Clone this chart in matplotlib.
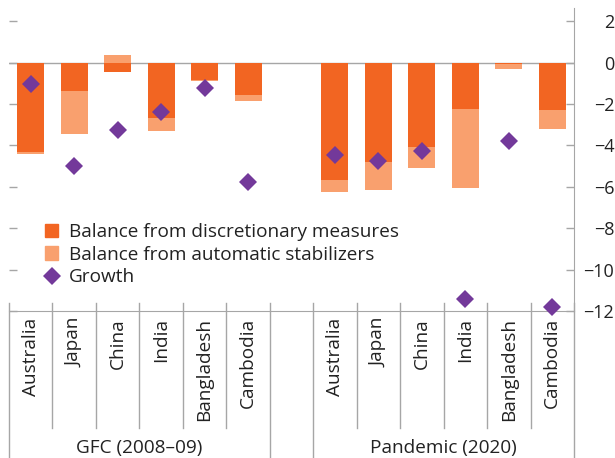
import matplotlib
matplotlib.use("Agg")
import matplotlib.pyplot as plt
import matplotlib.transforms as mtransforms
from matplotlib.lines import Line2D
from matplotlib.patches import Patch
import numpy as np

plt.rcParams['font.family'] = ['Open Sans', 'DejaVu Sans']

# data (per cent of GDP / per cent)
countries = ['Australia', 'Japan', 'China', 'India', 'Bangladesh', 'Cambodia']
groups = ['GFC (2008\u201309)', 'Pandemic (2020)']

gfc_disc = [-4.30, -1.36, -0.43, -2.67, -0.83, -1.56]
gfc_auto = [-0.13, -2.08, 0.37, -0.61, -0.05, -0.29]
gfc_growth = [-1.04, -4.98, -3.24, -2.38, -1.24, -5.77]

pan_disc = [-5.65, -4.79, -4.06, -2.23, -0.05, -2.28]
pan_auto = [-0.61, -1.38, -1.05, -3.84, -0.25, -0.95]
pan_growth = [-4.48, -4.77, -4.29, -11.44, -3.81, -11.8]

c_disc = '#F26522'
c_auto = '#F9A06E'
c_growth = '#73399A'
grey = '#A6A6A6'
txt = '#222222'
fs = 13.7

n = len(countries)
x_gfc = np.arange(n)
x_pan = np.arange(n) + n + 1
x_all = np.concatenate([x_gfc, x_pan])

disc = np.array(gfc_disc + pan_disc)
auto = np.array(gfc_auto + pan_auto)
growth = np.array(gfc_growth + pan_growth)

fig = plt.figure(figsize=(6.15, 4.58), dpi=100)
ax = fig.add_axes([9 / 615, 1 - 311 / 458, 565 / 615, 303 / 458])

w = 0.62
ax.bar(x_all, disc, width=w, color=c_disc, zorder=2)
# automatic stabilizers stacked beyond discretionary (same sign) or from zero
auto_base = np.where(np.sign(auto) == np.sign(disc), disc, 0)
ax.bar(x_all, auto, width=w, bottom=auto_base, color=c_auto, zorder=2)
ax.plot(x_all, growth, linestyle='none', marker='D', markersize=9.5,
        color=c_growth, markeredgewidth=0, zorder=4, clip_on=False)

ax.axhline(0, color=grey, lw=1, zorder=1)

ax.set_xlim(-0.5, 2 * n + 0.5)
ax.set_ylim(-12, 2.64)
yt = np.arange(-12, 3, 2)
ax.set_yticks(yt)
ax.set_yticklabels(['\u2212%d' % -v if v < 0 else '%d' % v for v in yt])

for s in ['top', 'left']:
    ax.spines[s].set_visible(False)
ax.spines['right'].set_color(grey)
ax.spines['bottom'].set_color(grey)

ax.yaxis.tick_right()
ax.tick_params(axis='y', which='both', direction='in', length=5.5, color=grey,
               width=1, labelsize=13, labelcolor=txt, pad=29, left=True,
               right=True, labelleft=False, labelright=True)
for lab in ax.get_yticklabels():
    lab.set_horizontalalignment('right')

ax.set_xticks(x_all)
ax.set_xticklabels(countries + countries, rotation=90, fontsize=fs,
                   color=txt, va='top')
ax.tick_params(axis='x', length=0, pad=5)

# category separators
trans = mtransforms.blended_transform_factory(ax.transData, ax.transAxes)
bounds = np.arange(-0.5, 2 * n + 1, 1.0)
long_b = [-0.5, n - 0.5, n + 0.5, 2 * n + 0.5]
for b in bounds:
    lo = -0.49 if b in long_b else -0.385
    ax.add_line(Line2D([b, b], [0.026, lo], transform=trans, color=grey,
                       lw=1, clip_on=False))

ax.text(np.mean(x_gfc), -0.452, groups[0], transform=trans, ha='center',
        va='center', fontsize=fs, color=txt)
ax.text(np.mean(x_pan), -0.452, groups[1], transform=trans, ha='center',
        va='center', fontsize=fs, color=txt)

handles = [Patch(color=c_disc), Patch(color=c_auto),
           Line2D([], [], linestyle='none', marker='D', markersize=9.5,
                  color=c_growth, markeredgewidth=0)]
labels = ['Balance from discretionary measures',
          'Balance from automatic stabilizers', 'Growth']
leg = ax.legend(handles, labels, loc='upper left',
                bbox_to_anchor=(0.064, 0.29), frameon=False, fontsize=fs,
                handlelength=0.7, handleheight=0.7, handletextpad=0.55,
                labelspacing=0.24, borderaxespad=0, borderpad=0)
for t in leg.get_texts():
    t.set_color(txt)

fig.savefig('out.png', dpi=100)
